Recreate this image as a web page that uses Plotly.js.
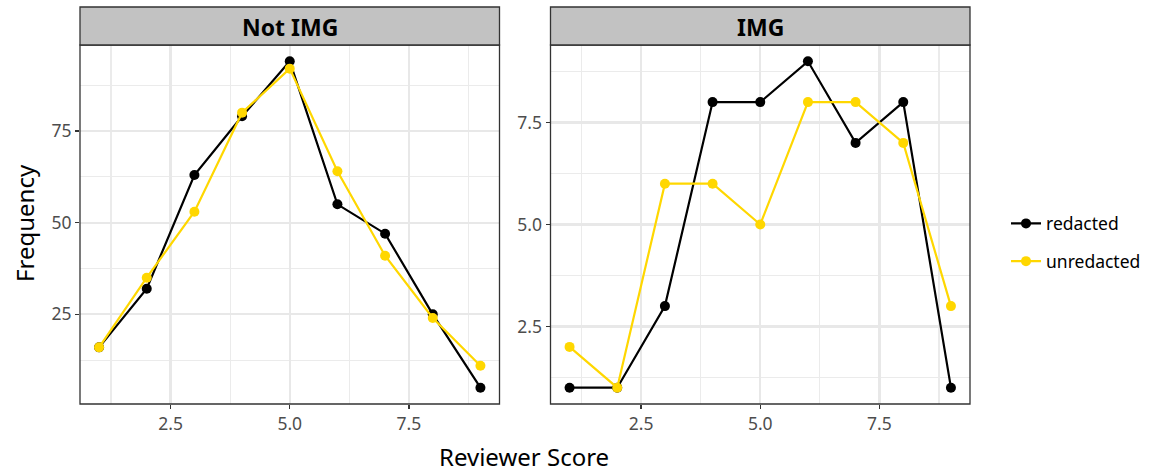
<!DOCTYPE html>
<html>
<head>
<meta charset="utf-8">
<script src="https://cdn.plot.ly/plotly-3.0.1.min.js"></script>
<style>body{margin:0;padding:0;background:#fff}#chart{width:1159px;height:475px}</style>
</head>
<body>
<div id="chart"></div>
<script>
// Data
const scores = [1, 2, 3, 4, 5, 6, 7, 8, 9];
const notImgRedacted   = [16, 32, 63, 79, 94, 55, 47, 25, 5];
const notImgUnredacted = [16, 35, 53, 80, 92, 64, 41, 24, 11];
const imgRedacted      = [1, 1, 3, 8, 8, 9, 7, 8, 1];
const imgUnredacted    = [2, 1, 6, 6, 5, 8, 8, 7, 3];
const panelTitles = ["Not IMG", "IMG"];
const seriesNames = ["redacted", "unredacted"];
const seriesColors = ["#000000", "#FFD700"];

const FONT = "Noto Sans, Open Sans, DejaVu Sans, sans-serif";
const W = 1159, H = 475;
const px = v => v / W;
const py = v => (H - v) / H;

function mk(x, y, i, xa, ya, show) {
  return {
    x: x, y: y, type: "scatter", mode: "lines+markers",
    name: seriesNames[i], legendgroup: seriesNames[i], showlegend: show,
    xaxis: xa, yaxis: ya,
    line: {color: seriesColors[i], width: 2.2},
    marker: {color: seriesColors[i], size: 10}
  };
}
const traces = [
  mk(scores, notImgRedacted, 0, "x", "y", true),
  mk(scores, notImgUnredacted, 1, "x", "y", true),
  mk(scores, imgRedacted, 0, "x2", "y2", false),
  mk(scores, imgUnredacted, 1, "x2", "y2", false)
];

const L1 = 80, R1 = 499.5, L2 = 550.5, R2 = 970, T = 45, B = 404, ST = 7;

function xax(dom, anchor) {
  return {
    domain: [px(dom[0]), px(dom[1])], anchor: anchor, range: [0.6, 9.4],
    tick0: 0, dtick: 2.5, tickformat: ".1f",
    showgrid: true, gridcolor: "#E8E8E8", gridwidth: 2.2,
    minor: {tick0: 1.25, dtick: 2.5, showgrid: true, gridcolor: "#EBEBEB", gridwidth: 1.1},
    zeroline: false, showline: false,
    ticks: "outside", ticklen: 4, tickcolor: "#333333", tickwidth: 1.2,
    tickfont: {family: FONT, size: 17.5, color: "#4D4D4D"}
  };
}
function yax(anchor, range, dt, fmt) {
  return {
    domain: [py(B), py(T)], anchor: anchor, range: range,
    tick0: 0, dtick: dt, tickformat: fmt,
    showgrid: true, gridcolor: "#E8E8E8", gridwidth: 2.2,
    minor: {tick0: dt / 2, dtick: dt, showgrid: true, gridcolor: "#EBEBEB", gridwidth: 1.1},
    zeroline: false, showline: false,
    ticks: "outside", ticklen: 4, tickcolor: "#333333", tickwidth: 1.2,
    tickfont: {family: FONT, size: 17.5, color: "#4D4D4D"}
  };
}

const shapes = [];
const annotations = [];
[[L1, R1], [L2, R2]].forEach((p, i) => {
  shapes.push({type: "rect", xref: "paper", yref: "paper", x0: px(p[0]), x1: px(p[1]), y0: py(B), y1: py(T),
    line: {color: "#333333", width: 1.3}, fillcolor: "rgba(0,0,0,0)", layer: "above"});
  shapes.push({type: "rect", xref: "paper", yref: "paper", x0: px(p[0]), x1: px(p[1]), y0: py(T), y1: py(ST),
    line: {color: "#333333", width: 1.3}, fillcolor: "#C2C2C2", layer: "above"});
  annotations.push({xref: "paper", yref: "paper", x: px((p[0] + p[1]) / 2), y: py((T + ST) / 2 + 1),
    text: "<b>" + panelTitles[i] + "</b>", showarrow: false, xanchor: "center", yanchor: "middle",
    font: {family: FONT, size: 23, color: "#000000"}});
});
annotations.push({xref: "paper", yref: "paper", x: px(524), y: py(456), text: "Reviewer Score",
  showarrow: false, xanchor: "center", yanchor: "middle", font: {family: FONT, size: 24, color: "#000"}});
annotations.push({xref: "paper", yref: "paper", x: px(25), y: py(223), text: "Frequency", textangle: -90,
  showarrow: false, xanchor: "center", yanchor: "middle", font: {family: FONT, size: 24, color: "#000"}});

const layout = {
  width: W, height: H,
  margin: {l: 0, r: 0, t: 0, b: 0},
  paper_bgcolor: "#FFFFFF", plot_bgcolor: "#FFFFFF",
  font: {family: FONT},
  xaxis: xax([L1, R1], "y"),
  yaxis: yax("x", [0.55, 98.45], 25, "d"),
  xaxis2: xax([L2, R2], "y2"),
  yaxis2: yax("x2", [0.6, 9.4], 2.5, ".1f"),
  shapes: shapes,
  annotations: annotations,
  showlegend: true,
  legend: {x: px(1006), y: py(242.5), xanchor: "left", yanchor: "middle",
    font: {family: FONT, size: 17.5, color: "#000"}, tracegroupgap: 12, itemwidth: 30,
    bgcolor: "rgba(0,0,0,0)"}
};

Plotly.newPlot("chart", traces, layout, {displayModeBar: false, staticPlot: true});
</script>
</body>
</html>
